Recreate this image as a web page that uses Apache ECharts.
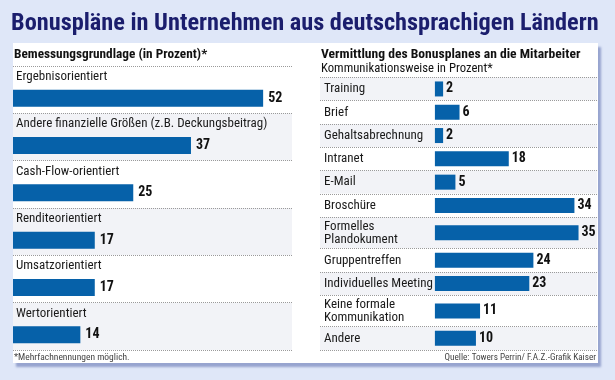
<!DOCTYPE html>
<html><head><meta charset="utf-8">
<script src="https://cdn.jsdelivr.net/npm/echarts@6/dist/echarts.min.js"></script>
<style>html,body{margin:0;padding:0;background:#dfe7f8}#c{width:615px;height:380px}</style>
</head><body><div id="c"></div>
<script>
const chartTitle = 'Bonuspläne in Unternehmen aus deutschsprachigen Ländern';
const leftHeadBold = 'Bemessungsgrundlage';
const leftHeadRegular = '(in Prozent)*';
const leftCategories = ['Ergebnisorientiert', 'Andere finanzielle Größen (z.B. Deckungsbeitrag)', 'Cash-Flow-orientiert', 'Renditeorientiert', 'Umsatzorientiert', 'Wertorientiert'];
const leftValues = [52, 37, 25, 17, 17, 14];
const rightHead = 'Vermittlung des Bonusplanes an die Mitarbeiter';
const rightSub = 'Kommunikationsweise in Prozent*';
const rightCategories = ['Training', 'Brief', 'Gehaltsabrechnung', 'Intranet', 'E-Mail', 'Broschüre', 'Formelles\nPlandokument', 'Gruppentreffen', 'Individuelles Meeting', 'Keine formale\nKommunikation', 'Andere'];
const rightValues = [2, 6, 2, 18, 5, 34, 35, 24, 23, 11, 10];
const footnote = '*Mehrfachnennungen möglich.';
const source = 'Quelle: Towers Perrin/ F.A.Z.-Grafik Kaiser';

const FONT = "'Roboto Condensed', 'DejaVu Sans Condensed', sans-serif";
const BAR = '#0661a9';
const GRAY = '#f2f3f7';
const DOT = '#9a9a9a';
const LBL = 13;

const grids = [], xAxes = [], yAxes = [], series = [];

// left panel
grids.push({left: 13, top: 66, width: 279, height: 284});
xAxes.push({type: 'value', gridIndex: 0, min: 0, max: 58, show: false});
yAxes.push({
  type: 'category', gridIndex: 0, inverse: true, data: leftCategories,
  axisLine: {show: false, onZero: false}, axisTick: {show: false},
  axisLabel: {inside: true, margin: 3, color: '#1a1a1a', fontFamily: FONT, fontSize: LBL, verticalAlign: 'bottom', lineHeight: 26},
  splitLine: {show: true, lineStyle: {type: [1, 1], color: DOT, width: 1}},
  splitArea: {show: true, areaStyle: {color: ['#ffffff', GRAY]}}
});
series.push({type: 'bar', xAxisIndex: 0, yAxisIndex: 0, data: [], barWidth: 17, barGap: '0%', silent: true});
series.push({
  type: 'bar', xAxisIndex: 0, yAxisIndex: 0, data: leftValues, barWidth: 17, barGap: '0%',
  itemStyle: {color: BAR}, silent: true,
  label: {show: true, position: 'right', distance: 5, color: '#111', fontFamily: FONT, fontWeight: 'bold', fontSize: 14}
});

// right panel: one grid per row
let y = 77.3;
rightCategories.forEach((cat, i) => {
  const h = cat.indexOf('\n') >= 0 ? 31.5 : 23.3;
  const gi = grids.length;
  grids.push({left: 320, top: y, width: 277, height: h});
  xAxes.push({type: 'value', gridIndex: gi, min: -28, max: 39.5, show: false});
  yAxes.push({
    type: 'category', gridIndex: gi, data: [cat],
    axisLine: {show: false, onZero: false}, axisTick: {show: false},
    axisLabel: {inside: true, margin: 4, color: '#1a1a1a', fontFamily: FONT, fontSize: LBL, lineHeight: 13},
    splitLine: {show: true, lineStyle: {type: [1, 1], color: DOT, width: 1}},
    splitArea: {show: true, areaStyle: {color: [i % 2 === 0 ? GRAY : '#ffffff']}}
  });
  series.push({
    type: 'bar', xAxisIndex: gi, yAxisIndex: gi, data: [rightValues[i]], barWidth: 15,
    itemStyle: {color: BAR}, silent: true,
    label: {show: true, position: 'right', distance: 3, color: '#111', fontFamily: FONT, fontWeight: 'bold', fontSize: 14}
  });
  y += h;
});

const chart = echarts.init(document.getElementById('c'), null, {renderer: 'canvas'});
chart.setOption({
  backgroundColor: '#dfe7f8',
  animation: false,
  title: [
    {text: chartTitle, left: 11, top: 12, padding: 0, textStyle: {fontFamily: FONT, fontSize: 24.3, fontWeight: 'bold', color: '#1b1e6d'}},
    {text: '{b|' + leftHeadBold + '}{r| ' + leftHeadRegular + '}', left: 14, top: 48, padding: 0,
     textStyle: {rich: {b: {fontFamily: FONT, fontSize: 13.3, fontWeight: 'bold', color: '#111'}, r: {fontFamily: FONT, fontSize: 13.3, color: '#111'}}}},
    {text: rightHead, left: 321, top: 48, padding: 0, textStyle: {fontFamily: FONT, fontSize: 13.6, fontWeight: 'bold', color: '#111'}},
    {text: rightSub, left: 321, top: 62, padding: 0, textStyle: {fontFamily: FONT, fontSize: 12.7, fontWeight: 'normal', color: '#111'}},
    {text: footnote, left: 14, top: 353, padding: 0, textStyle: {fontFamily: FONT, fontSize: 9.5, fontWeight: 'normal', color: '#444'}},
    {text: source, right: 19, top: 353, padding: 0, textStyle: {fontFamily: FONT, fontSize: 9.2, fontWeight: 'normal', color: '#444'}}
  ],
  graphic: [{
    type: 'rect', z: -10, silent: true,
    shape: {x: 13, y: 43, width: 585, height: 320},
    style: {fill: '#ffffff', shadowBlur: 2, shadowColor: 'rgba(120,135,190,0.7)', shadowOffsetX: 3, shadowOffsetY: 4}
  }],
  grid: grids, xAxis: xAxes, yAxis: yAxes, series: series
});
</script></body></html>
